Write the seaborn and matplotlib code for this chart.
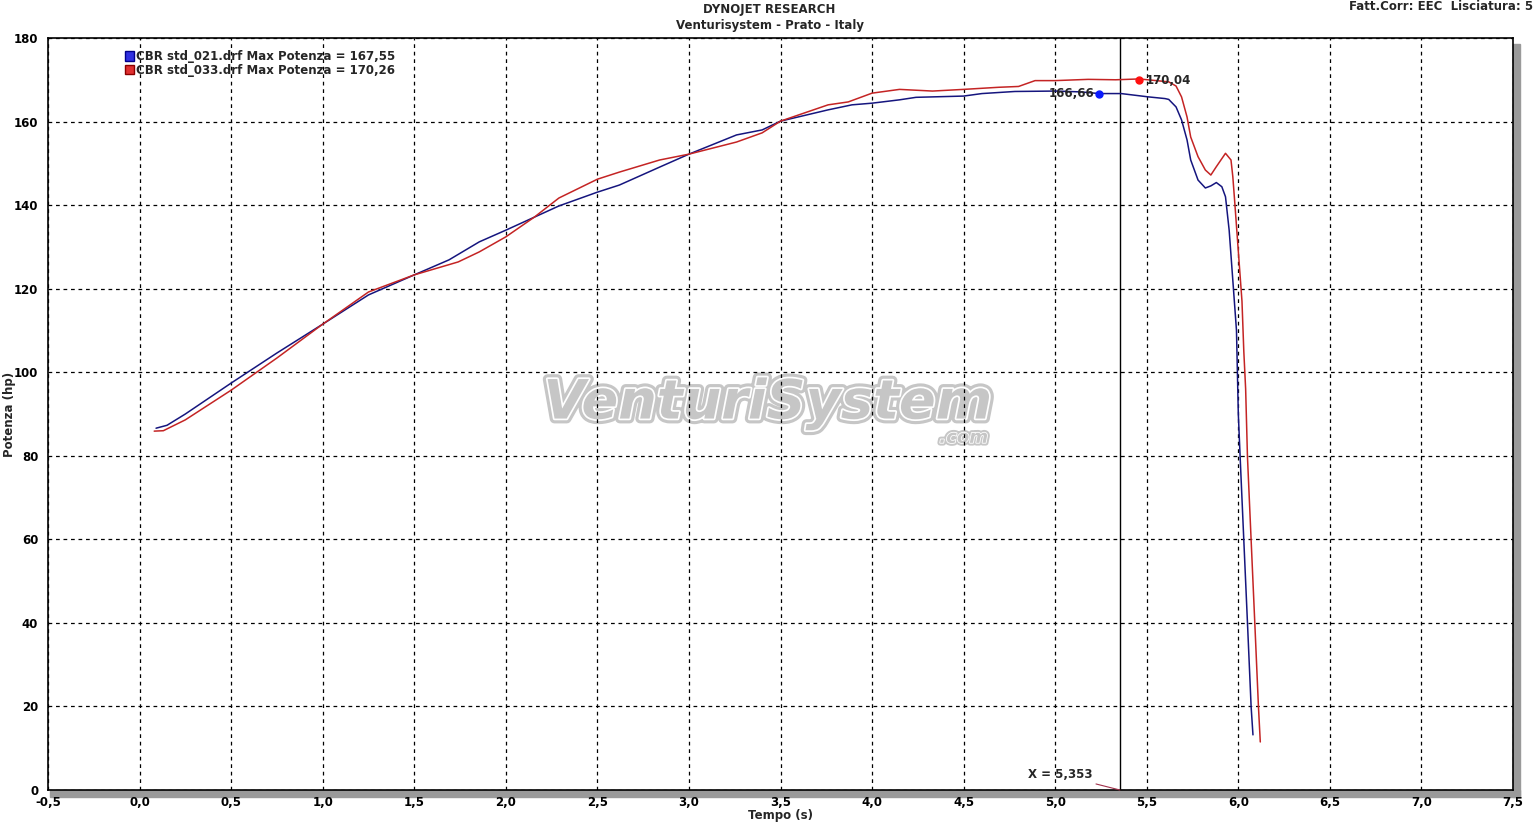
import matplotlib
matplotlib.use("Agg")
import matplotlib.pyplot as plt
import matplotlib.patheffects as pe
from matplotlib.patches import Rectangle, Patch
from matplotlib.ticker import MultipleLocator, FuncFormatter
import seaborn as sns

# run std_021 (blue)
blue_t = [0.09, 0.15, 0.25, 0.50, 0.75, 1.00, 1.25, 1.50, 1.69, 1.855, 2.00, 2.155,
          2.29, 2.50, 2.62, 2.84, 3.00, 3.26, 3.40, 3.50, 3.76, 3.89, 4.00, 4.15,
          4.24, 4.50, 4.60, 4.78, 5.00, 5.14, 5.24, 5.36, 5.51, 5.60, 5.62, 5.66,
          5.69, 5.72, 5.74, 5.78, 5.82, 5.85, 5.88, 5.91, 5.93, 5.95, 5.97, 5.99,
          6.00, 6.01, 6.03, 6.05, 6.07, 6.08]
blue_hp = [86.6, 87.3, 90.0, 97.4, 104.6, 111.5, 118.5, 123.3, 126.9, 131.2, 134.0, 137.1,
           139.8, 143.1, 144.8, 149.1, 152.2, 156.8, 158.0, 160.1, 162.8, 164.0, 164.4, 165.2,
           165.8, 166.1, 166.7, 167.2, 167.3, 167.1, 166.7, 166.7, 165.9, 165.5, 165.3, 163.5,
           160.4, 155.6, 150.8, 146.0, 144.1, 144.6, 145.4, 144.4, 142.0, 134.0, 122.0, 110.0,
           90.0, 79.7, 59.8, 40.0, 19.9, 13.2]

# run std_033 (red)
red_t = [0.08, 0.13, 0.25, 0.50, 0.75, 1.00, 1.25, 1.50, 1.74, 1.855, 2.00, 2.155,
         2.29, 2.50, 2.62, 2.84, 3.00, 3.26, 3.40, 3.50, 3.76, 3.87, 4.00, 4.15,
         4.33, 4.50, 4.69, 4.80, 4.89, 5.00, 5.18, 5.33, 5.46, 5.62, 5.66, 5.69,
         5.72, 5.74, 5.78, 5.82, 5.85, 5.88, 5.93, 5.96, 5.97, 5.98, 6.00, 6.02,
         6.03, 6.04, 6.05, 6.07, 6.09, 6.11, 6.12]
red_hp = [85.9, 86.0, 88.6, 95.7, 103.4, 111.5, 119.2, 123.3, 126.4, 128.8, 132.4, 137.1,
          141.7, 146.2, 147.9, 150.8, 152.2, 155.1, 157.3, 160.1, 164.0, 164.7, 166.8, 167.7,
          167.3, 167.7, 168.2, 168.4, 169.8, 169.8, 170.1, 170.0, 170.2, 169.5, 168.5, 165.9,
          161.1, 156.3, 151.6, 148.4, 147.2, 149.2, 152.4, 150.8, 146.8, 141.0, 129.0, 117.0,
          105.0, 96.0, 79.7, 59.8, 40.0, 19.9, 11.5]

legend_labels = ["CBR std_021.drf Max Potenza = 167,55",
                 "CBR std_033.drf Max Potenza = 170,26"]
blue_mark = (5.24, 166.66)
red_mark = (5.46, 170.04)
cursor_x = 5.353

sns.set_style("white")
plt.rcParams['font.family'] = ['DejaVu Sans']

W, H = 1539, 823
fig = plt.figure(figsize=(W / 100, H / 100), dpi=100)
ax = fig.add_axes([48 / W, 1 - 790 / H, (1513 - 48) / W, (790 - 38) / H])

# grey drop shadow under/right of the frame
fig.add_artist(Rectangle((50 / W, 1 - 797 / H), (1520 - 50) / W, 7 / H,
                         transform=fig.transFigure, color='#9a9a9a', zorder=-1))
fig.add_artist(Rectangle((1513 / W, 1 - 797 / H), 7 / W, (797 - 44) / H,
                         transform=fig.transFigure, color='#9a9a9a', zorder=-1))

# watermark
ax.text(3.43, 92.5, "VenturiSystem", ha='center', va='center', fontsize=39,
        fontstyle='italic', fontweight='heavy', color='#c6c6c6', zorder=0.2,
        path_effects=[pe.Stroke(linewidth=7, foreground='#c6c6c6'),
                      pe.Stroke(linewidth=2.5, foreground='white'), pe.Normal()])
ax.text(4.5, 84.3, ".com", ha='center', va='center', fontsize=13,
        fontstyle='italic', fontweight='heavy', color='#c6c6c6', zorder=0.2,
        path_effects=[pe.Stroke(linewidth=4, foreground='#c6c6c6'),
                      pe.Stroke(linewidth=1.2, foreground='white'), pe.Normal()])

sns.lineplot(x=blue_t, y=blue_hp, ax=ax, color='#15157e', linewidth=1.1, zorder=3)
sns.lineplot(x=red_t, y=red_hp, ax=ax, color='#c42424', linewidth=1.1, zorder=3)

ax.set_xlim(-0.5, 7.5)
ax.set_ylim(0, 180)
ax.set_axisbelow(True)
ax.xaxis.set_major_locator(MultipleLocator(0.5))
ax.xaxis.set_minor_locator(MultipleLocator(0.1))
ax.yaxis.set_major_locator(MultipleLocator(20))
ax.yaxis.set_minor_locator(MultipleLocator(5))
ax.xaxis.set_major_formatter(FuncFormatter(lambda v, p: f"{v:.1f}".replace('.', ',')))
ax.yaxis.set_major_formatter(FuncFormatter(lambda v, p: f"{v:.0f}"))
ax.tick_params(axis='x', which='both', direction='in', length=5, width=1, colors='black', pad=4)
ax.tick_params(axis='y', which='both', direction='inout', length=8, width=1, colors='black', pad=3)
for lab in ax.get_xticklabels() + ax.get_yticklabels():
    lab.set_fontweight('bold')
    lab.set_fontsize(8.5)
ax.grid(True, which='major', color='black', linestyle=(0, (3, 3)), linewidth=0.9)
for s in ax.spines.values():
    s.set_color('black')
    s.set_linewidth(1.2)
ax.set_xlabel("")
ax.set_ylabel("")

# cursor
ax.axvline(cursor_x, color='black', linewidth=1, zorder=2.6)
ax.annotate(f"X = {cursor_x:.3f}".replace('.', ','), xy=(cursor_x, 0), xytext=(5.205, 3.6),
            ha='right', va='center', fontsize=8.5, fontweight='bold',
            arrowprops=dict(arrowstyle='-', color='#a0304a', lw=0.8, shrinkA=0, shrinkB=0))

# max markers
ax.plot(*blue_mark, 'o', color='#0a1aff', markersize=5, zorder=4)
ax.plot(*red_mark, 'o', color='#ff1010', markersize=5, zorder=4)
ax.annotate(f"{blue_mark[1]:.2f}".replace('.', ','), xy=blue_mark, xytext=(-5, 0),
            textcoords='offset pixels', ha='right', va='center', fontsize=8.5, fontweight='bold')
ax.annotate(f"{red_mark[1]:.2f}".replace('.', ','), xy=red_mark, xytext=(6, -1),
            textcoords='offset pixels', ha='left', va='center', fontsize=8.5, fontweight='bold')

handles = [Patch(facecolor='#3030e0', edgecolor='#00008a'),
           Patch(facecolor='#e03030', edgecolor='#8a0000')]
leg = ax.legend(handles, legend_labels, loc='upper left', bbox_to_anchor=(0.0485, 0.992),
                frameon=False, borderpad=0, handlelength=0.75, handleheight=0.9,
                handletextpad=0.15, labelspacing=0.05, prop={'weight': 'bold', 'size': 8.5})

fig.text(0.5, 1 - 10 / H, "DYNOJET RESEARCH", ha='center', va='center', fontsize=8.5, fontweight='bold')
fig.text(0.5, 1 - 26 / H, "Venturisystem - Prato - Italy", ha='center', va='center', fontsize=8.5, fontweight='bold')
fig.text(1533 / W, 1 - 7 / H, "Fatt.Corr: EEC  Lisciatura: 5", ha='right', va='center', fontsize=8.5, fontweight='bold')
fig.text(10 / W, 1 - 414 / H, "Potenza (hp)", rotation=90, ha='center', va='center', fontsize=8.5, fontweight='bold')
fig.text(781 / W, 1 - 815 / H, "Tempo (s)", ha='center', va='center', fontsize=8.5, fontweight='bold')

fig.savefig("out.png", dpi=100)
